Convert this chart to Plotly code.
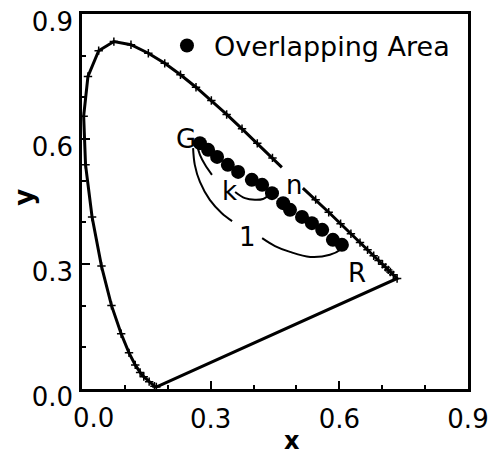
import plotly.graph_objects as go

# Spectral locus (chromaticity x, y)
locus_x = [0.1741, 0.1738, 0.1733, 0.1726, 0.1714, 0.1689, 0.1644, 0.1566, 0.1510, 0.1440,
           0.1355, 0.1241, 0.1096, 0.0913, 0.0687, 0.0454, 0.0235, 0.0082, 0.0039, 0.0139,
           0.0389, 0.0743, 0.1142, 0.1547, 0.1929, 0.2296, 0.2658, 0.3016, 0.3373, 0.3731,
           0.4087, 0.4441, 0.466, None, 0.515, 0.5448, 0.5752, 0.6029, 0.6270, 0.6482, 0.6658,
           0.6801, 0.6915, 0.7006, 0.7079, 0.7140, 0.7190, 0.7230, 0.7260, 0.7300, 0.7347,
           0.1741]
locus_y = [0.0050, 0.0049, 0.0048, 0.0048, 0.0051, 0.0069, 0.0109, 0.0177, 0.0227, 0.0297,
           0.0399, 0.0578, 0.0868, 0.1327, 0.2007, 0.2950, 0.4127, 0.5384, 0.6548, 0.7502,
           0.8120, 0.8338, 0.8262, 0.8059, 0.7816, 0.7543, 0.7243, 0.6923, 0.6589, 0.6245,
           0.5896, 0.5547, 0.532, None, 0.482, 0.4544, 0.4242, 0.3965, 0.3725, 0.3514, 0.3340,
           0.3197, 0.3083, 0.2993, 0.2920, 0.2859, 0.2809, 0.2770, 0.2740, 0.2700, 0.2653,
           0.0050]

# Tick marks on the locus
mark_x = [0.1733, 0.1689, 0.1566, 0.1440, 0.1355, 0.1241, 0.1096, 0.0913, 0.0687, 0.0454,
          0.0235, 0.0082, 0.0039, 0.0139, 0.0389, 0.0743, 0.1142, 0.1547, 0.1929, 0.2296,
          0.2658, 0.3016, 0.3373, 0.3731, 0.4087, 0.4441, 0.5448, 0.5752, 0.6029, 0.6270,
          0.6482, 0.6658, 0.6801, 0.6915, 0.7006, 0.7079, 0.7140, 0.7190, 0.7260, 0.7347]
mark_y = [0.0048, 0.0069, 0.0177, 0.0297, 0.0399, 0.0578, 0.0868, 0.1327, 0.2007, 0.2950,
          0.4127, 0.5384, 0.6548, 0.7502, 0.8120, 0.8338, 0.8262, 0.8059, 0.7816, 0.7543,
          0.7243, 0.6923, 0.6589, 0.6245, 0.5896, 0.5547, 0.4544, 0.4242, 0.3965, 0.3725,
          0.3514, 0.3340, 0.3197, 0.3083, 0.2993, 0.2920, 0.2859, 0.2809, 0.2740, 0.2653]

# Overlapping area points
overlap_x = [0.275, 0.294, 0.315, 0.340, 0.364, 0.396, 0.420, 0.443, 0.469, 0.485,
             0.513, 0.536, 0.560, 0.585, 0.606]
overlap_y = [0.590, 0.574, 0.557, 0.538, 0.521, 0.502, 0.490, 0.470, 0.446, 0.430,
             0.413, 0.398, 0.382, 0.358, 0.346]

# Bracket curves labelled k and 1
curve_k_x = [0.268, 0.275, 0.287, 0.303, None, 0.357, 0.380, 0.403, 0.422, 0.438]
curve_k_y = [0.586, 0.562, 0.538, 0.514, None, 0.473, 0.458, 0.454, 0.456, 0.468]
curve_1_x = [0.259, 0.263, 0.275, 0.298, 0.326, 0.350, None,
             0.420, 0.450, 0.485, 0.532, 0.578, 0.602, 0.613]
curve_1_y = [0.578, 0.538, 0.497, 0.454, 0.422, 0.403, None,
             0.362, 0.343, 0.329, 0.317, 0.322, 0.334, 0.350]

# Point labels
label_text = ["G", "k", "n", "1", "R"]
label_x = [0.2425, 0.343, 0.494, 0.385, 0.641]
label_y = [0.600, 0.475, 0.490, 0.365, 0.278]

tick_vals = [0.0, 0.3, 0.6, 0.9]
x_tick_text = ["", "0.3", "0.6", "0.9"]
y_tick_text = ["0.0", "0.3", "0.6", "0.9"]

FONT = "DejaVu Sans"

fig = go.Figure()
fig.add_trace(go.Scatter(x=locus_x, y=locus_y, mode="lines",
                         line=dict(color="black", width=3), showlegend=False,
                         hoverinfo="skip"))
fig.add_trace(go.Scatter(x=mark_x, y=mark_y, mode="markers",
                         marker=dict(symbol="cross-thin", size=6, color="black",
                                     line=dict(color="black", width=1.5)),
                         showlegend=False, hoverinfo="skip"))
fig.add_trace(go.Scatter(x=curve_k_x, y=curve_k_y, mode="lines",
                         line=dict(color="black", width=2, shape="spline"),
                         showlegend=False))
fig.add_trace(go.Scatter(x=curve_1_x, y=curve_1_y, mode="lines",
                         line=dict(color="black", width=2, shape="spline"),
                         showlegend=False))
fig.add_trace(go.Scatter(x=overlap_x, y=overlap_y, mode="markers",
                         marker=dict(symbol="circle", size=14, color="black"),
                         name="Overlapping Area", showlegend=True))

for t, lx, ly in zip(label_text, label_x, label_y):
    fig.add_annotation(x=lx, y=ly, text=t, showarrow=False,
                       font=dict(family=FONT, size=26, color="black"))

# x tick label "0.0", offset to the right as in the original
fig.add_annotation(x=tick_vals[0], y=-0.0773, xref="x", yref="paper", text=y_tick_text[0],
                   showarrow=False, xanchor="center", yanchor="middle", xshift=11,
                   font=dict(family=FONT, size=26, color="black"))

# axis titles (placed as in the original)
fig.add_annotation(x=0.544, y=-0.1813, xref="paper", yref="paper", text="<b>x</b>",
                   showarrow=False, xanchor="center", yanchor="bottom",
                   font=dict(family=FONT, size=24, color="black"))
fig.add_annotation(x=-0.150, y=0.51, xref="paper", yref="paper", text="<b>y</b>",
                   showarrow=False, xanchor="center", yanchor="middle", textangle=-90,
                   font=dict(family=FONT, size=26, color="black"))

axis_common = dict(
    range=[0, 0.9], showgrid=False, zeroline=False, automargin=False,
    showline=True, linecolor="black", linewidth=2.5, mirror=True,
    ticks="inside", ticklen=8, tickwidth=2, tickcolor="black",
    tickvals=tick_vals, ticklabeloverflow="allow",
    tickfont=dict(family=FONT, size=26, color="black"),
    minor=dict(dtick=0.1, ticks="inside", ticklen=4, tickwidth=2, tickcolor="black"),
)

fig.update_xaxes(**axis_common, ticktext=x_tick_text, ticklabelstandoff=5)
fig.update_yaxes(**axis_common, ticktext=y_tick_text, ticklabelshift=8, ticklabelstandoff=1)

fig.update_layout(
    width=490, height=457,
    margin=dict(l=82, r=22, t=14, b=68),
    paper_bgcolor="white", plot_bgcolor="white",
    legend=dict(x=0.202, y=0.98, xanchor="left", yanchor="top", itemwidth=44,
                bgcolor="rgba(0,0,0,0)",
                font=dict(family=FONT, size=27, color="black")),
)

fig.write_html("out.html")
